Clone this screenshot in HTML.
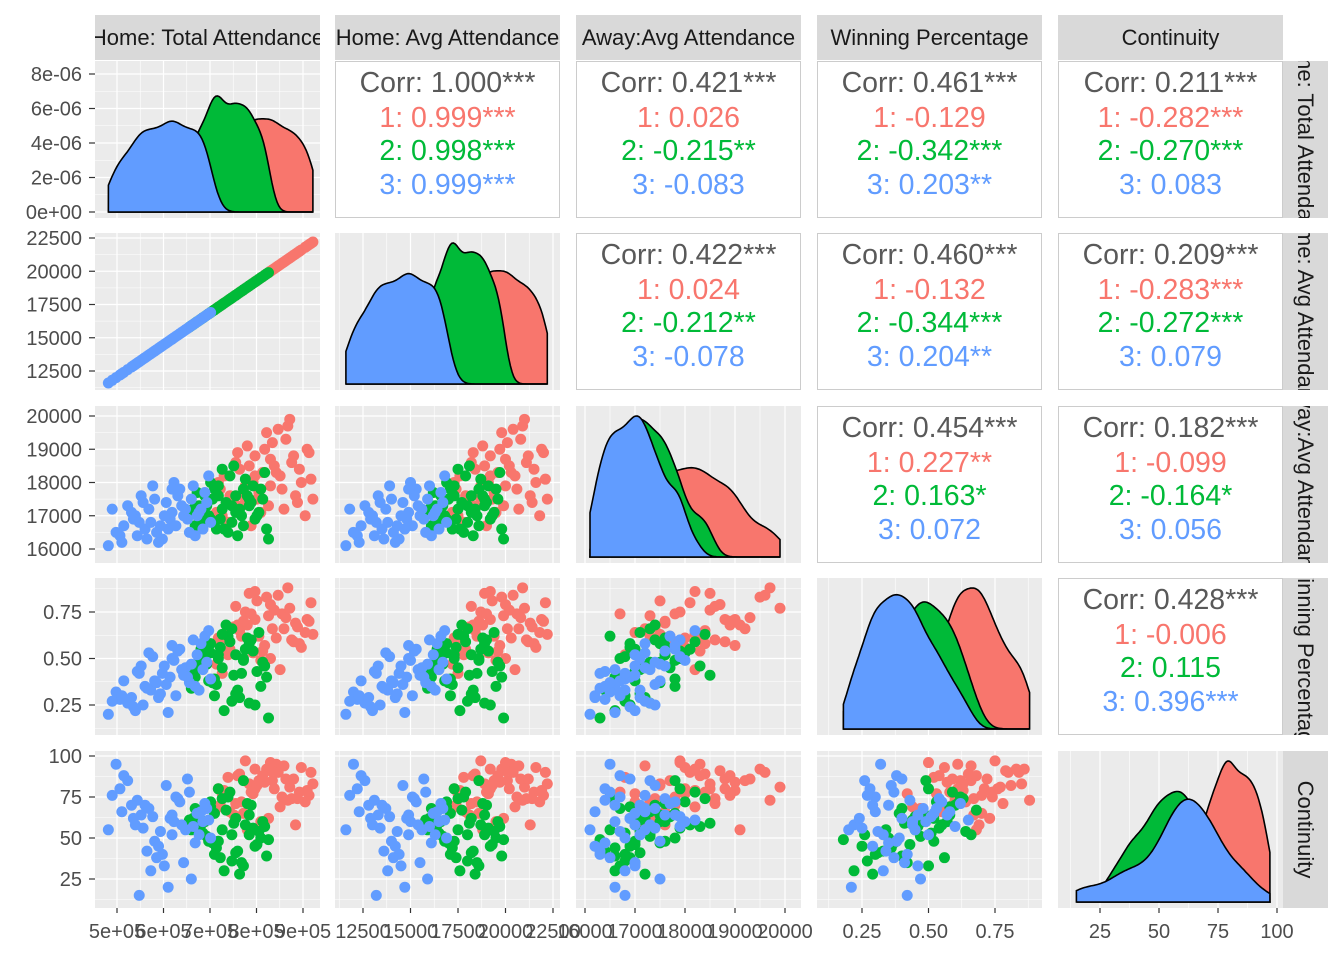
<!DOCTYPE html>
<html><head><meta charset="utf-8"><style>
body{margin:0;background:#fff;}
svg{display:block;font-family:"Liberation Sans",sans-serif;}
</style></head><body>
<svg id="chart" width="1344" height="960" viewBox="0 0 1344 960" xmlns="http://www.w3.org/2000/svg"></svg>
<script>
// ---- data: [homeAvg, awayAvg, winPct, continuity] per group ----
const group1 = [[18500,17300,0.62,72],[19200,18800,0.71,80],[20100,19200,0.66,85],[21500,18400,0.58,78],[22100,18100,0.80,90],[17900,17600,0.55,66],[19800,19500,0.83,92],[20600,17800,0.74,75],[18300,18900,0.68,88],[21000,19900,0.77,81],[19500,17100,0.49,60],[20300,18300,0.61,95],[17400,17800,0.59,70],[18900,18500,0.85,83],[21800,17000,0.64,72],[20800,19300,0.72,86],[19100,18000,0.53,77],[18100,17400,0.67,64],[20000,18700,0.79,91],[21300,17600,0.69,58],[17600,18200,0.63,79],[19700,19000,0.57,84],[22000,18900,0.70,76],[18700,17900,0.75,97],[20500,18200,0.44,69],[19300,17500,0.81,82],[21100,18600,0.60,74],[17800,16800,0.52,87],[20900,19700,0.88,73],[18400,18400,0.65,89],[19900,17300,0.73,62],[21600,18000,0.56,93],[17200,17100,0.47,68],[20200,18500,0.76,80],[18800,19100,0.68,55],[19400,17700,0.62,85],[21900,19000,0.71,79],[20700,17200,0.66,94],[18200,18600,0.78,71],[19600,18300,0.54,88],[22200,17500,0.63,83],[17500,17000,0.42,77],[20400,19600,0.84,90],[18600,17600,0.70,65],[21200,18800,0.59,86],[19000,16700,0.74,78],[20000,17900,0.50,96],[17300,18000,0.61,80],[21400,17400,0.67,74],[19200,18200,0.86,92]];
const group2 = [[17500,17200,0.45,55],[18200,17600,0.52,62],[16800,17000,0.38,48],[19000,17400,0.60,70],[17100,16800,0.30,40],[18700,18100,0.55,58],[16300,17300,0.48,66],[19500,17800,0.35,50],[17800,16500,0.62,75],[18500,17000,0.42,35],[16600,17600,0.57,60],[19200,16900,0.25,45],[17300,17900,0.50,80],[18000,17300,0.66,52],[16100,16700,0.40,68],[19700,18300,0.46,57],[17600,16600,0.22,30],[18900,17500,0.58,64],[16900,18000,0.53,72],[18300,16400,0.33,42],[15800,17100,0.44,61],[19400,17100,0.64,54],[17000,17500,0.37,47],[18600,17800,0.49,85],[17400,16900,0.56,38],[18100,18500,0.41,59],[16500,16800,0.51,53],[19900,16300,0.18,49],[17700,17400,0.68,67],[18400,17200,0.29,28],[16200,17700,0.45,63],[19100,17900,0.54,56],[17200,16600,0.36,44],[18800,17600,0.61,71],[16700,17300,0.47,51],[18000,16800,0.27,36],[17900,18200,0.59,78],[19300,17000,0.43,46],[16400,17000,0.55,58],[17100,17800,0.39,65],[18600,16700,0.50,33],[15900,16500,0.34,55],[19600,17500,0.48,60],[17500,18400,0.63,74],[18200,17100,0.31,41],[16900,16900,0.58,69],[18900,17300,0.26,52],[17300,17600,0.52,48],[19800,16600,0.40,39],[16000,17200,0.46,62]];
const group3 = [[14800,16900,0.40,62],[13500,16600,0.35,70],[15600,17200,0.45,55],[12200,16400,0.28,80],[16200,17000,0.52,65],[14000,17500,0.38,48],[15100,16700,0.30,75],[13000,17000,0.22,58],[16700,17400,0.48,68],[14400,16300,0.42,40],[11600,16100,0.20,55],[15300,17800,0.55,72],[13800,16800,0.33,30],[16500,16600,0.44,60],[12600,17300,0.26,85],[14900,17100,0.50,52],[15800,16500,0.37,78],[13300,17600,0.46,64],[16000,17900,0.60,57],[14200,16200,0.29,45],[12000,16500,0.32,95],[15500,17000,0.41,35],[13700,17200,0.53,68],[16900,16800,0.39,50],[14600,17400,0.36,82],[12900,16900,0.24,62],[15900,17500,0.47,25],[13100,16400,0.43,73],[16400,17200,0.58,66],[14300,16700,0.31,54],[11800,17200,0.27,76],[15000,18000,0.49,60],[13600,16300,0.34,42],[16600,17700,0.62,71],[12400,16700,0.38,88],[14700,16600,0.21,20],[15400,17300,0.44,58],[13900,17900,0.51,63],[16100,16400,0.35,47],[12800,17100,0.29,70],[14500,17000,0.46,33],[15700,16900,0.40,86],[13400,17400,0.25,56],[16800,18200,0.65,61],[14100,16500,0.37,38],[12300,16200,0.30,66],[15200,17600,0.54,74],[13200,16800,0.42,15],[16300,17100,0.33,52],[14900,17800,0.57,64]];
const gamesPerSeason = 41.5;
const varNames = ["Home: Total Attendance","Home: Avg Attendance","Away:Avg Attendance","Winning Percentage","Continuity"];
const ticks0 = [500000,600000,700000,800000,900000];
const tickLabels0 = ["5e+05","6e+05","7e+05","8e+05","9e+05"];
const ticks1 = [12500,15000,17500,20000,22500];
const ticks2 = [16000,17000,18000,19000,20000];
const ticks3 = [0.25,0.50,0.75];
const ticks4 = [25,50,75,100];
const densTicks = [0,2e-6,4e-6,6e-6,8e-6];
const densTickLabels = ["0e+00","2e-06","4e-06","6e-06","8e-06"];
// correlation text [row][col] -> lines
const corrText = {
 "0,1":["Corr: 1.000***","1: 0.999***","2: 0.998***","3: 0.999***"],
 "0,2":["Corr: 0.421***","1: 0.026","2: -0.215**","3: -0.083"],
 "0,3":["Corr: 0.461***","1: -0.129","2: -0.342***","3: 0.203**"],
 "0,4":["Corr: 0.211***","1: -0.282***","2: -0.270***","3: 0.083"],
 "1,2":["Corr: 0.422***","1: 0.024","2: -0.212**","3: -0.078"],
 "1,3":["Corr: 0.460***","1: -0.132","2: -0.344***","3: 0.204**"],
 "1,4":["Corr: 0.209***","1: -0.283***","2: -0.272***","3: 0.079"],
 "2,3":["Corr: 0.454***","1: 0.227**","2: 0.163*","3: 0.072"],
 "2,4":["Corr: 0.182***","1: -0.099","2: -0.164*","3: 0.056"],
 "3,4":["Corr: 0.428***","1: -0.006","2: 0.115","3: 0.396***"]
};

const colors=["#F8766D","#00BA38","#619CFF"];
const textCol=["#595959","#F8766D","#00BA38","#619CFF"];
const groups=[group1,group2,group3].map(g=>g.map(r=>[r[0]*gamesPerSeason,r[0],r[1],r[2],r[3]]));
const colX=[95,335,576,817,1058], rowY=[61,233,406,578,751], PW=225, PH=157;
function lin(d0,d1,r0,r1){return v=>r0+(v-d0)/(d1-d0)*(r1-r0);}
const sx=[lin(5e5,9e5,22,208),lin(12500,22500,28,218),lin(16000,20000,9,209),lin(0.25,0.75,45,178),lin(25,100,42,219)];
const sy=[null,lin(22500,12500,5,138),lin(20000,16000,10,143),lin(0.75,0.25,34,127),lin(100,25,5,128)];
const dy0=lin(0,8e-6,151,13);
const tks=[ticks0,ticks1,ticks2,ticks3,ticks4];
const NS="http://www.w3.org/2000/svg";
const svg=document.getElementById('chart');
function mk(tag,attrs,parent){const e=document.createElementNS(NS,tag);for(const k in attrs)e.setAttribute(k,attrs[k]);(parent||svg).appendChild(e);return e;}
function fmt(v,i){if(i===0)return tickLabels0[ticks0.indexOf(v)];if(i===3)return v.toFixed(2);return String(v);}
function minors(t){const m=[];const d=t[1]-t[0];m.push(t[0]-d/2);for(let i=0;i<t.length;i++)m.push(t[i]+d/2);return m;}

function gridPanel(g,c,r,xt,xs,yt,ys){
  mk('rect',{x:colX[c],y:rowY[r],width:PW,height:PH,fill:'#EBEBEB'},g);
  minors(xt).forEach(v=>{const x=colX[c]+xs(v);if(x>colX[c]&&x<colX[c]+PW)mk('line',{x1:x,x2:x,y1:rowY[r],y2:rowY[r]+PH,stroke:'#fff','stroke-width':0.6},g);});
  minors(yt).forEach(v=>{const y=rowY[r]+ys(v);if(y>rowY[r]&&y<rowY[r]+PH)mk('line',{x1:colX[c],x2:colX[c]+PW,y1:y,y2:y,stroke:'#fff','stroke-width':0.6},g);});
  xt.forEach(v=>{const x=colX[c]+xs(v);mk('line',{x1:x,x2:x,y1:rowY[r],y2:rowY[r]+PH,stroke:'#fff','stroke-width':1.2},g);});
  yt.forEach(v=>{const y=rowY[r]+ys(v);mk('line',{x1:colX[c],x2:colX[c]+PW,y1:y,y2:y,stroke:'#fff','stroke-width':1.2},g);});
}
function kde(vals,x){const n=vals.length;const m=vals.reduce((a,b)=>a+b,0)/n;const sd=Math.sqrt(vals.reduce((a,b)=>a+(b-m)*(b-m),0)/(n-1));const h=1.06*sd*Math.pow(n,-0.2)*0.6;let s=0;for(const v of vals){const z=(x-v)/h;s+=Math.exp(-0.5*z*z);}return s/(n*h*Math.sqrt(2*Math.PI));}

for(let r=0;r<5;r++)for(let c=0;c<5;c++){
  const g=mk('g',{});
  
  
  if(r<c){
    mk('rect',{x:colX[c]+0.5,y:rowY[r]+0.5,width:PW-1,height:PH-1,fill:'#fff',stroke:'#CCCCCC','stroke-width':1},g);
    const lines=corrText[r+','+c];
    const offs=[21,56,89,123];
    lines.forEach((s,i)=>{const t=mk('text',{x:colX[c]+PW/2,y:rowY[r]+offs[i]+10,'text-anchor':'middle','font-size':28.5,fill:textCol[i]},g);t.textContent=s;
      
      });
  } else if(r===c){
    const ys=r===0?dy0:sy[r]||dy0;
    gridPanel(g,c,r,tks[c],sx[c],r===0?densTicks:[],ys);
    let all=[];groups.forEach(gr=>gr.forEach(p=>all.push(p[c])));
    const lo=Math.min(...all),hi=Math.max(...all);
    const curves=groups.map(gr=>{const vals=gr.map(p=>p[c]);const pts=[];for(let k=0;k<=120;k++){const x=lo+(hi-lo)*k/120;pts.push([x,kde(vals,x)]);}return pts;});
    let maxD=0;curves.forEach(cv=>cv.forEach(p=>maxD=Math.max(maxD,p[1])));
    const dmap=r===0?dy0:lin(0,maxD,151,10);
    curves.forEach((cv,gi)=>{
      let d='M'+(colX[c]+sx[c](cv[0][0]))+','+(rowY[r]+dmap(0));
      cv.forEach(p=>{d+='L'+(colX[c]+sx[c](p[0])).toFixed(1)+','+(rowY[r]+dmap(p[1])).toFixed(1);});
      d+='L'+(colX[c]+sx[c](cv[cv.length-1][0]))+','+(rowY[r]+dmap(0))+'Z';
      const p=mk('path',{d:d,fill:colors[gi],stroke:'#000','stroke-width':1.6},g);
      
      
    });
  } else {
    gridPanel(g,c,r,tks[c],sx[c],tks[r],sy[r]);
    groups.forEach((gr,gi)=>gr.forEach(p=>{
      const ci=mk('circle',{cx:colX[c]+sx[c](p[c]),cy:rowY[r]+sy[r](p[r]),r:5.5,fill:colors[gi]},g);
      
      
    }));
  }
}
// strips
for(let c=0;c<5;c++){
  const g=mk('g',{});
  
  
  const cid='clipc'+c;const cp=mk('clipPath',{id:cid},g);mk('rect',{x:colX[c],y:15,width:PW,height:45},cp);
  mk('rect',{x:colX[c],y:15,width:PW,height:45,fill:'#D9D9D9'},g);
  const t=mk('text',{x:colX[c]+PW/2,y:45,'text-anchor':'middle','font-size':22,fill:'#1A1A1A','clip-path':'url(#'+cid+')'},g);t.textContent=varNames[c];
}
for(let r=0;r<5;r++){
  const g=mk('g',{});
  
  
  const cid='clipr'+r;const cp=mk('clipPath',{id:cid},g);mk('rect',{x:1283,y:rowY[r],width:45,height:PH},cp);
  mk('rect',{x:1283,y:rowY[r],width:45,height:PH,fill:'#D9D9D9'},g);
  const gg=mk('g',{'clip-path':'url(#'+cid+')'},g);
  const cx=1298,cy=rowY[r]+PH/2;
  const t=mk('text',{x:cx,y:cy,'text-anchor':'middle','font-size':22,fill:'#1A1A1A',transform:'rotate(90 '+cx+' '+cy+')'},gg);t.textContent=varNames[r];
}
// x axes
for(let c=0;c<5;c++){
  const g=mk('g',{});
  
  
  tks[c].forEach(v=>{const x=colX[c]+sx[c](v);
    mk('line',{x1:x,x2:x,y1:908,y2:913,stroke:'#333','stroke-width':1.2},g);
    const t=mk('text',{x:x,y:938,'text-anchor':'middle','font-size':20,fill:'#4D4D4D'},g);t.textContent=fmt(v,c);});
}
// y axes
for(let r=0;r<5;r++){
  const g=mk('g',{});
  
  
  const yt=r===0?densTicks:tks[r];const ys=r===0?dy0:sy[r];
  yt.forEach((v,i)=>{const y=rowY[r]+ys(v);
    mk('line',{x1:89,x2:95,y1:y,y2:y,stroke:'#333','stroke-width':1.2},g);
    const t=mk('text',{x:82,y:y+7,'text-anchor':'end','font-size':20,fill:'#4D4D4D'},g);t.textContent=r===0?densTickLabels[i]:fmt(v,r);});
}
</script>
</body></html>
